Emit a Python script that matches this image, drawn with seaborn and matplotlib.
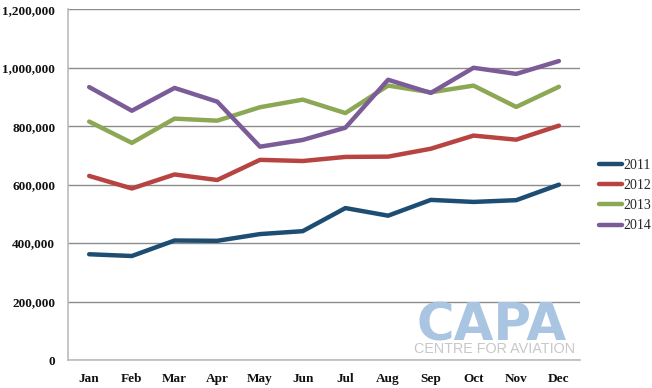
import matplotlib
matplotlib.use('Agg')
import matplotlib.pyplot as plt
import pandas as pd
import seaborn as sns
from matplotlib.ticker import FuncFormatter

months = ['Jan', 'Feb', 'Mar', 'Apr', 'May', 'Jun', 'Jul', 'Aug', 'Sep', 'Oct', 'Nov', 'Dec']
y2011 = [362000, 356000, 409000, 408000, 431000, 441000, 520000, 494000, 548000, 541000, 547000, 600000]
y2012 = [630000, 587000, 635000, 616000, 685000, 681000, 695000, 696000, 723000, 768000, 754000, 802000]
y2013 = [816000, 743000, 826000, 819000, 865000, 891000, 845000, 939000, 916000, 939000, 866000, 935000]
y2014 = [934000, 853000, 931000, 884000, 730000, 753000, 795000, 959000, 914000, 1000000, 979000, 1023000]
years = ['2011', '2012', '2013', '2014']
colors = ['#1D4D72', '#B84442', '#8CA855', '#7C5C98']

rows = []
for yr, vals in zip(years, [y2011, y2012, y2013, y2014]):
    for i, v in enumerate(vals):
        rows.append({'month': i, 'year': yr, 'value': v})
df = pd.DataFrame(rows)

sns.set_style('white')
plt.rcParams['font.family'] = ['Liberation Serif', 'DejaVu Serif']

fig = plt.figure(figsize=(6.52, 3.88), dpi=100)
ax = fig.add_axes([0.104, 0.072, 0.786, 0.904])

sns.lineplot(data=df, x='month', y='value', hue='year', palette=colors,
             linewidth=3.2, ax=ax, legend=False)

# watermark
fig.text(0.754, 0.1237, 'CAPA', fontsize=37, fontweight='bold', color='#A9C5E1',
         family='DejaVu Sans', ha='center', va='baseline', zorder=0)
fig.text(0.7577, 0.0894, 'CENTRE FOR AVIATION', fontsize=10.4, color='#C8C8C8',
         family='Liberation Sans', ha='center', va='baseline', zorder=0)

ax.set_xlim(-0.5, 11.5)
ax.set_ylim(0, 1200000)
ax.set_yticks(range(0, 1200001, 200000))
ax.yaxis.set_major_formatter(FuncFormatter(lambda v, p: f'{int(v):,}'))
ax.set_xticks(range(12))
ax.set_xticklabels(months)
ax.set_xticks([i - 0.5 for i in range(13)], minor=True)
ax.tick_params(axis='x', which='major', length=0, pad=9)
ax.tick_params(axis='x', which='minor', length=4, color='#BBBBBB', direction='out')
ax.tick_params(axis='y', length=0, pad=9)
for lbl in ax.get_xticklabels() + ax.get_yticklabels():
    lbl.set_fontweight('bold')
    lbl.set_fontsize(9.5)
    lbl.set_color('#111111')

ax.grid(axis='y', color='#8C8C8C', linewidth=1)
ax.set_axisbelow(True)
for s in ['top', 'right']:
    ax.spines[s].set_visible(False)
ax.spines['left'].set_color('#BBBBBB')
ax.spines['bottom'].set_color('#BBBBBB')
ax.spines['left'].set_linewidth(1.2)
ax.spines['bottom'].set_linewidth(1.2)
ax.set_xlabel('')
ax.set_ylabel('')

handles = [plt.Line2D([0], [0], color=c, linewidth=3.2) for c in colors]
fig.legend(handles, years, loc='upper left', bbox_to_anchor=(0.9, 0.623),
           frameon=False, handlelength=1.6, handletextpad=0.1, labelspacing=0.52,
           prop={'family': 'Liberation Serif', 'size': 10})

fig.savefig('out.png', dpi=100)
